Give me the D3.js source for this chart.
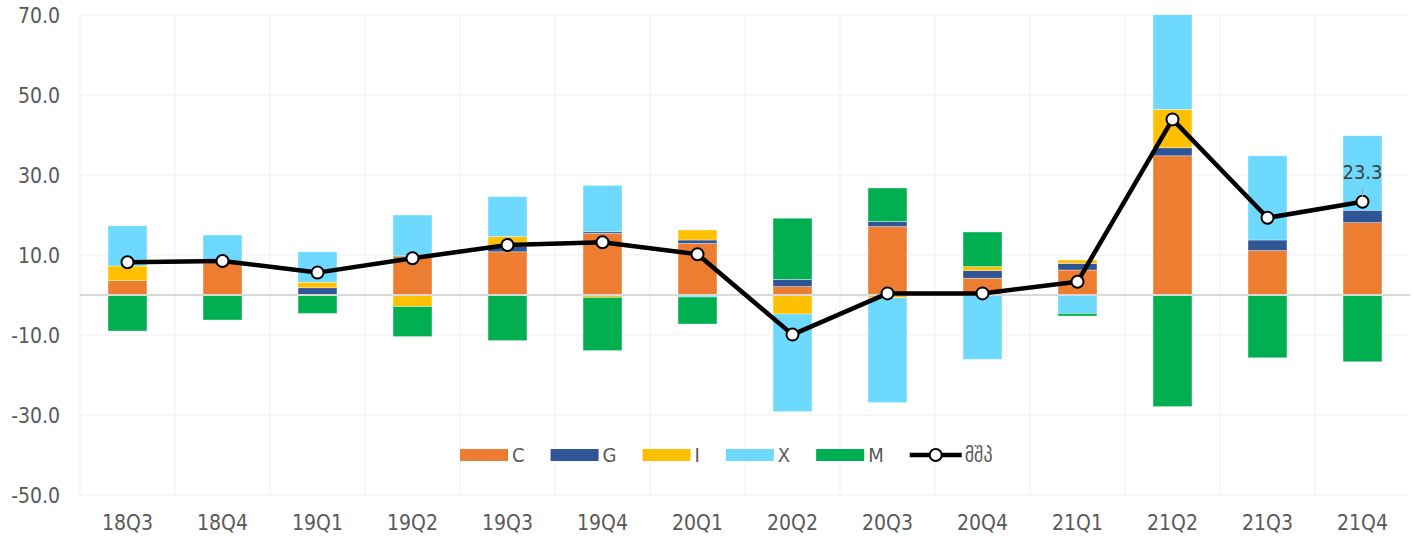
<!DOCTYPE html>
<html>
<head>
<meta charset="utf-8">
<script src="https://cdn.jsdelivr.net/npm/d3@7"></script>
<style>
  body { margin: 0; background: #fff; }
  svg { display: block; font-family: "DejaVu Sans Condensed", "DejaVu Sans", sans-serif; }
</style>
</head>
<body>
<svg id="chart" width="1414" height="537"></svg>
<script>
// quarters
var categories = ["18Q3", "18Q4", "19Q1", "19Q2", "19Q3", "19Q4", "20Q1",
                  "20Q2", "20Q3", "20Q4", "21Q1", "21Q2", "21Q3", "21Q4"];
// contributions to growth, by component
var C = [3.6, 8.0, 0.0, 9.6, 10.8, 15.4, 12.9, 2.1, 17.1, 4.2, 6.25, 34.8, 11.1, 18.1];
var G = [0.0, 0.3, 1.8, 0.3, 1.3, 0.4, 0.85, 1.8, 1.3, 1.9, 1.65, 2.0, 2.65, 3.1];
var I = [3.65, 0.0, 1.4, -2.9, 2.5, -0.6, 2.5, -4.75, -0.7, 1.0, 0.85, 9.6, 0.0, 0.0];
var X = [10.05, 6.7, 7.6, 10.1, 10.0, 11.6, -0.5, -24.4, -26.2, -16.1, -4.6, 25.4, 21.05, 18.6];
var M = [-9.0, -6.25, -4.6, -7.5, -11.4, -13.3, -6.75, 15.3, 8.35, 8.65, -0.65, -27.9, -15.7, -16.7];
// GDP growth (line)
var gdp = [8.2, 8.5, 5.6, 9.2, 12.5, 13.2, 10.2, -9.9, 0.4, 0.4, 3.3, 43.9, 19.3, 23.3];
var gdpName = "მშპ";
var yTicks = [-50, -30, -10, 10, 30, 50, 70];

var keys = ["C", "G", "I", "X", "M"];
var colors = { C: "#ed7d31", G: "#2f5597", I: "#ffc000", X: "#6dd9fe", M: "#00b050" };
var series = { C: C, G: G, I: I, X: X, M: M };

// one decimal, plain hyphen for negatives
var fmt = d3.formatLocale({ decimal: ".", thousands: ",", grouping: [3], currency: ["", ""], minus: "-" })
    .format(".1f");

var svg = d3.select("#chart");
var margin = { left: 80, right: 4, top: 15, bottom: 42 };
var width = 1414, height = 537;

var x = d3.scaleBand()
    .domain(categories)
    .range([margin.left, width - margin.right])
    .padding(0);
var y = d3.scaleLinear()
    .domain([-50, 70])
    .range([height - margin.bottom, margin.top]);

// rows for the stack
var rows = categories.map(function (c, i) {
    var r = { cat: c };
    keys.forEach(function (k) { r[k] = series[k][i]; });
    return r;
});
var stacked = d3.stack()
    .keys(keys)
    .offset(d3.stackOffsetDiverging)(rows);

// clip to the plot area
svg.append("defs").append("clipPath")
    .attr("id", "clip")
    .append("rect")
    .attr("x", margin.left)
    .attr("y", y(70))
    .attr("width", width - margin.left - margin.right)
    .attr("height", y(-50) - y(70));

// grid: horizontal at ticks
svg.append("g")
    .selectAll("line")
    .data(yTicks)
    .enter().append("line")
    .attr("x1", margin.left)
    .attr("x2", width - margin.right)
    .attr("y1", function (d) { return y(d); })
    .attr("y2", function (d) { return y(d); })
    .style("stroke", "#f0f0f0")
    .style("stroke-width", 1);

// grid: vertical at category boundaries
var bounds = categories.map(function (c) { return x(c); });
svg.append("g")
    .selectAll("line")
    .data(bounds)
    .enter().append("line")
    .attr("x1", function (d) { return d; })
    .attr("x2", function (d) { return d; })
    .attr("y1", y(70))
    .attr("y2", y(-50))
    .style("stroke", "#f0f0f0")
    .style("stroke-width", 1);

// y axis labels
svg.append("g")
    .selectAll("text")
    .data(yTicks)
    .enter().append("text")
    .attr("x", 60)
    .attr("y", function (d) { return y(d); })
    .attr("dy", "0.36em")
    .attr("text-anchor", "end")
    .attr("font-size", 21)
    .attr("fill", "#595959")
    .text(function (d) { return fmt(d); });

// x axis labels
svg.append("g")
    .selectAll("text")
    .data(categories)
    .enter().append("text")
    .attr("x", function (d) { return x(d) + x.bandwidth() / 2; })
    .attr("y", 530)
    .attr("text-anchor", "middle")
    .attr("font-size", 21)
    .attr("fill", "#595959")
    .text(function (d) { return d; });

// stacked bars
var barW = x.bandwidth() * 0.41;
var bars = svg.append("g").attr("clip-path", "url(#clip)");
stacked.forEach(function (s) {
    bars.append("g")
        .attr("class", s.key)
        .selectAll("rect")
        .data(s)
        .enter().append("rect")
        .attr("x", function (d) { return x(d.data.cat) + (x.bandwidth() - barW) / 2; })
        .attr("width", barW)
        .attr("y", function (d) { return y(Math.max(d[0], d[1])); })
        .attr("height", function (d) { return Math.abs(y(d[0]) - y(d[1])); })
        .style("fill", colors[s.key])
        .style("stroke", "#ffffff")
        .style("stroke-width", 0.6)
        .style("stroke-opacity", 0.6);
});

// zero line
svg.append("line")
    .attr("x1", margin.left)
    .attr("x2", width - margin.right)
    .attr("y1", y(0))
    .attr("y2", y(0))
    .style("stroke", "#d9d9d9")
    .style("stroke-width", 2);

// gdp line
var cx = function (d, i) { return x(categories[i]) + x.bandwidth() / 2; };
svg.append("path")
    .datum(gdp)
    .attr("d", d3.line().x(cx).y(function (d) { return y(d); }))
    .style("fill", "none")
    .style("stroke", "#000")
    .style("stroke-width", 4.5)
    .style("stroke-linejoin", "round");
svg.append("g")
    .selectAll("circle")
    .data(gdp)
    .enter().append("circle")
    .attr("cx", cx)
    .attr("cy", function (d) { return y(d); })
    .attr("r", 6)
    .style("fill", "#fff")
    .style("stroke", "#000")
    .style("stroke-width", 2);

// label on the last point
var last = gdp.length - 1;
var lx = x(categories[last]) + x.bandwidth() / 2;
svg.append("line")
    .attr("x1", lx).attr("x2", lx)
    .attr("y1", y(gdp[last]) - 14).attr("y2", y(gdp[last]) - 5)
    .style("stroke", "#a6a6a6")
    .style("stroke-width", 1);
svg.append("text")
    .attr("x", lx)
    .attr("y", y(gdp[last]) - 23)
    .attr("text-anchor", "middle")
    .attr("font-size", 20)
    .attr("fill", "#404040")
    .text(fmt(gdp[last]));

// legend
var legend = svg.append("g");
var lxPos = 460, ly = 455;
keys.forEach(function (k) {
    legend.append("rect")
        .attr("x", lxPos).attr("y", ly - 6)
        .attr("width", 48).attr("height", 12)
        .style("fill", colors[k]);
    var t = legend.append("text")
        .attr("x", lxPos + 52).attr("y", ly)
        .attr("dy", "0.36em")
        .attr("font-size", 20)
        .attr("fill", "#595959")
        .text(k);
    lxPos += 52 + t.node().getComputedTextLength() + 26;
});
legend.append("line")
    .attr("x1", lxPos).attr("x2", lxPos + 52)
    .attr("y1", ly).attr("y2", ly)
    .style("stroke", "#000")
    .style("stroke-width", 4.5);
legend.append("circle")
    .attr("cx", lxPos + 26).attr("cy", ly).attr("r", 6)
    .style("fill", "#fff")
    .style("stroke", "#000")
    .style("stroke-width", 2);
legend.append("text")
    .attr("x", lxPos + 55).attr("y", ly)
    .attr("dy", "0.36em")
    .attr("font-size", 20)
    .attr("fill", "#595959")
    .text(gdpName);
</script>
</body>
</html>
